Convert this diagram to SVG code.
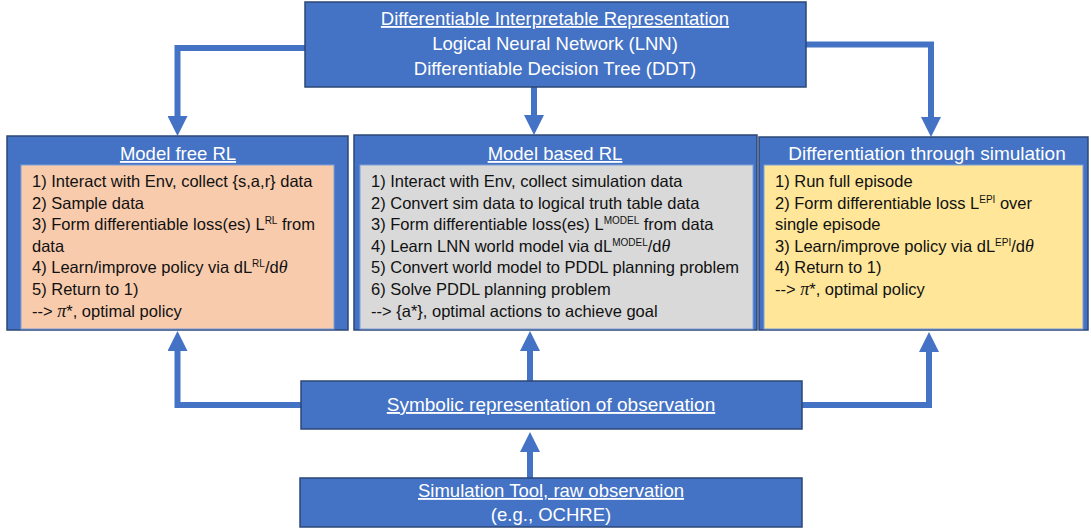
<svg xmlns="http://www.w3.org/2000/svg" width="1091" height="530" viewBox="0 0 1091 530">
<defs>
<style>
.box{fill:#4472C4;stroke:#2B4774;stroke-width:1.5}
.inner{stroke:#7F9FD8;stroke-width:1}
.hd{font-family:"Liberation Sans",Arial,sans-serif;font-size:18.5px;fill:#FFFFFF;text-anchor:middle}
.u{text-decoration:underline}
.bd{font-family:"Liberation Sans",Arial,sans-serif;font-size:16.5px;fill:#111111}
.sup{font-size:10px}
.m{font-family:"Liberation Serif","Times New Roman",serif;font-style:italic;font-size:18px}
.conn{fill:none;stroke:#4472C4;stroke-width:6}
</style>
<marker id="ah" viewBox="0 0 20 20" refX="6" refY="10" markerWidth="20" markerHeight="20" markerUnits="userSpaceOnUse" orient="auto">
<path d="M0,0 L20,10 L0,20 Z" fill="#4472C4"/>
</marker>
</defs>
<rect width="1091" height="530" fill="#FFFFFF"/>

<g id="connectors">
<path class="conn" d="M305,48 H177.5 V122" marker-end="url(#ah)"/>
<path class="conn" d="M534,87 V121" marker-end="url(#ah)"/>
<path class="conn" d="M806,44.5 H931 V123" marker-end="url(#ah)"/>
<path class="conn" d="M301,405 H177.5 V345" marker-end="url(#ah)"/>
<path class="conn" d="M530,381 V345" marker-end="url(#ah)"/>
<path class="conn" d="M802,405 H929 V346" marker-end="url(#ah)"/>
<path class="conn" d="M530,478 V446" marker-end="url(#ah)"/>
</g>

<g id="top">
<rect class="box" x="305" y="2" width="501" height="85"/>
<text class="hd u" x="555" y="25">Differentiable Interpretable Representation</text>
<text class="hd" x="555" y="50">Logical Neural Network (LNN)</text>
<text class="hd" x="555" y="75">Differentiable Decision Tree (DDT)</text>
</g>

<g id="model-free">
<rect class="box" x="7" y="136" width="341" height="194"/>
<rect class="inner" x="21" y="165" width="313" height="164" fill="#F8CBAD"/>
<text class="hd u" x="178" y="160">Model free RL</text>
<text class="bd" x="32" y="187">1) Interact with Env, collect {s,a,r} data</text>
<text class="bd" x="32" y="208.6">2) Sample data</text>
<text class="bd" x="32" y="230.2">3) Form differentiable loss(es) L<tspan class="sup" dy="-6">RL</tspan><tspan dy="6"> from</tspan></text>
<text class="bd" x="32" y="251.8">data</text>
<text class="bd" x="32" y="273.4">4) Learn/improve policy via dL<tspan class="sup" dy="-6">RL</tspan><tspan dy="6">/d</tspan><tspan class="m">θ</tspan></text>
<text class="bd" x="32" y="295">5) Return to 1)</text>
<text class="bd" x="32" y="316.6">--&gt; <tspan class="m">π</tspan>*, optimal policy</text>
</g>

<g id="model-based">
<rect class="box" x="354" y="135" width="403" height="195"/>
<rect class="inner" x="360" y="165" width="393" height="164" fill="#D9D9D9"/>
<text class="hd u" x="555" y="160">Model based RL</text>
<text class="bd" x="371" y="187">1) Interact with Env, collect simulation data</text>
<text class="bd" x="371" y="208.6">2) Convert sim data to logical truth table data</text>
<text class="bd" x="371" y="230.2">3) Form differentiable loss(es) L<tspan class="sup" dy="-6">MODEL</tspan><tspan dy="6"> from data</tspan></text>
<text class="bd" x="371" y="251.8">4) Learn LNN world model via dL<tspan class="sup" dy="-6">MODEL</tspan><tspan dy="6">/d</tspan><tspan class="m">θ</tspan></text>
<text class="bd" x="371" y="273.4">5) Convert world model to PDDL planning problem</text>
<text class="bd" x="371" y="295">6) Solve PDDL planning problem</text>
<text class="bd" x="371" y="316.6">--&gt; {a*}, optimal actions to achieve goal</text>
</g>

<g id="diff-sim">
<rect class="box" x="759" y="137" width="329" height="193"/>
<rect class="inner" x="764" y="165" width="319" height="164" fill="#FFE699"/>
<text class="hd" x="927" y="160" style="font-size:19px">Differentiation through simulation</text>
<text class="bd" x="775" y="187">1) Run full episode</text>
<text class="bd" x="775" y="208.6">2) Form differentiable loss L<tspan class="sup" dy="-6">EPI</tspan><tspan dy="6"> over</tspan></text>
<text class="bd" x="775" y="230.2">single episode</text>
<text class="bd" x="775" y="251.8">3) Learn/improve policy via dL<tspan class="sup" dy="-6">EPI</tspan><tspan dy="6">/d</tspan><tspan class="m">θ</tspan></text>
<text class="bd" x="775" y="273.4">4) Return to 1)</text>
<text class="bd" x="775" y="295">--&gt; <tspan class="m">π</tspan>*, optimal policy</text>
</g>

<g id="symbolic">
<rect class="box" x="301" y="381" width="501" height="48"/>
<text class="hd u" x="551" y="411" style="font-size:19px">Symbolic representation of observation</text>
</g>

<g id="simulation">
<rect class="box" x="300" y="478" width="502" height="49"/>
<text class="hd u" x="551" y="497">Simulation Tool, raw observation</text>
<text class="hd" x="551" y="521">(e.g., OCHRE)</text>
</g>
</svg>
